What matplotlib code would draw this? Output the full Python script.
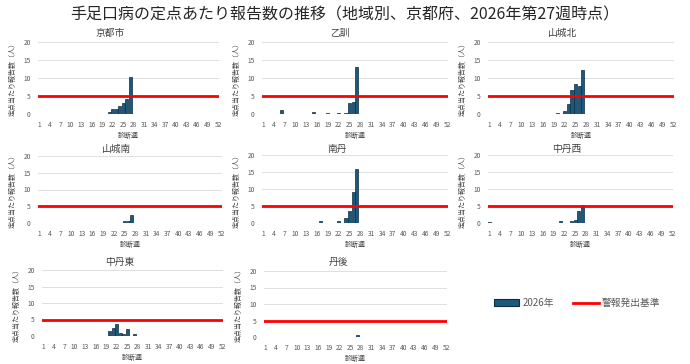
import numpy as np
import matplotlib
matplotlib.use("Agg")
import matplotlib.pyplot as plt
from matplotlib.patches import Patch
from matplotlib.lines import Line2D

plt.rcParams['font.family'] = ['Noto Sans CJK JP', 'DejaVu Sans']

# data: per-sentinel reports, weeks 1..27 of 2026
weeks = np.arange(1, 28)
kyoto_city = [0, 0, 0, 0, 0, 0.1, 0, 0, 0, 0, 0, 0, 0.1, 0, 0.1, 0.1, 0, 0.1, 0.1, 0.1,
              0.5, 1.3, 1.3, 2.2, 3.0, 4.1, 10.2]
otokuni = [0, 0, 0, 0, 0, 1.0, 0, 0, 0, 0, 0, 0, 0, 0, 0.5, 0, 0, 0, 0.25, 0,
           0, 0.25, 0, 0.25, 3.0, 3.3, 13.0]
yamashiro_n = [0, 0.1, 0, 0, 0, 0, 0, 0, 0, 0, 0, 0, 0, 0.1, 0, 0.1, 0, 0, 0, 0.4,
               0, 0.8, 2.8, 6.7, 8.3, 7.8, 12.2]
yamashiro_s = [0, 0, 0, 0, 0, 0, 0, 0, 0, 0, 0, 0, 0, 0, 0, 0, 0, 0, 0, 0,
               0, 0, 0, 0, 0.5, 0.5, 2.5]
nantan = [0, 0, 0, 0, 0, 0, 0, 0, 0, 0, 0, 0, 0, 0, 0, 0, 0.5, 0, 0, 0,
          0, 0.5, 0, 1.5, 3.5, 9.0, 16.0]
chutan_w = [0.4, 0, 0, 0, 0, 0, 0, 0, 0, 0, 0, 0, 0, 0, 0, 0, 0, 0, 0, 0,
            0.5, 0, 0, 0.5, 1.0, 3.5, 5.3]
chutan_e = [0, 0, 0, 0, 0, 0, 0, 0, 0, 0, 0, 0, 0, 0, 0, 0, 0, 0, 0, 1.5,
            2.5, 3.5, 1.0, 0.5, 2.0, 0, 0.5]
tango = [0, 0, 0, 0, 0, 0, 0, 0, 0, 0, 0, 0, 0, 0, 0, 0, 0, 0, 0, 0,
         0, 0, 0, 0, 0, 0, 0.7]

regions = ['京都市', '乙訓', '山城北', '山城南', '南丹', '中丹西', '中丹東', '丹後']
series = [kyoto_city, otokuni, yamashiro_n, yamashiro_s, nantan, chutan_w, chutan_e, tango]
alert_level = 5
xticks = list(range(1, 53, 3))
yticks = [0, 5, 10, 15, 20]

# pixel layout: (x of week 1, x of week 52, y of 20, y of 0)
W, H = 690, 364
boxes = [(39, 218, 42, 114), (263, 447, 42, 114), (489, 673, 42, 114),
         (39, 221, 156, 223), (263, 447, 155, 223), (489, 672, 155, 223),
         (43, 222, 270, 336), (265, 446, 271, 337)]
title_pos = [(110, 33), (340, 33), (563, 33),
             (117, 149), (337, 149), (567, 149),
             (120, 262), (338, 262)]

bar_color = '#1c5a7d'
edge_color = '#0e2c3d'
txt = '#595959'

fig = plt.figure(figsize=(W / 100, H / 100), dpi=100)
fig.text(0.5, 1 - 15 / H, '手足口病の定点あたり報告数の推移（地域別、京都府、2026年第27週時点）',
         ha='center', va='center', fontsize=11.5, color='#262626')

pad = 0.35
for name, vals, (x1, x2, yt, yb), (tx, ty) in zip(regions, series, boxes, title_pos):
    pw = (x2 - x1) / 51
    left = x1 - pad * pw
    right = x2 + pad * pw
    ax = fig.add_axes([left / W, 1 - yb / H, (right - left) / W, (yb - yt) / H])
    ax.bar(weeks, vals, width=0.85, color=bar_color, edgecolor=edge_color, linewidth=0.5, zorder=2)
    ax.axhline(alert_level, color='#ff0000', lw=2, zorder=3)
    ax.set_xlim(1 - pad, 52 + pad)
    ax.set_ylim(0, 20)
    ax.set_xticks(xticks)
    ax.set_yticks(yticks)
    ax.tick_params(length=0, labelsize=4.8, colors=txt, pad=5)
    ax.grid(axis='y', color='#d9d9d9', lw=0.6, zorder=0)
    for s in ax.spines.values():
        s.set_visible(False)
    ax.set_ylabel('定点当たり報告数（人）', fontsize=5, color='#404040', labelpad=5)
    ax.set_xlabel('診断週', fontsize=5, color='#404040', labelpad=2.5)
    fig.text(tx / W, 1 - ty / H, name, ha='center', va='center', fontsize=7, color='#404040')

# legend in the empty cell
handles = [Patch(facecolor=bar_color, edgecolor=edge_color, linewidth=0.8),
           Line2D([0], [0], color='#ff0000', lw=2)]
fig.legend(handles, ['2026年', '警報発出基準'], loc='center', ncol=2,
           bbox_to_anchor=(577 / W, 1 - 303 / H), frameon=False, fontsize=7,
           labelcolor=txt, handlelength=2.6, handleheight=0.6, columnspacing=2.0,
           handletextpad=0.3)

fig.savefig('out.png', dpi=100)
